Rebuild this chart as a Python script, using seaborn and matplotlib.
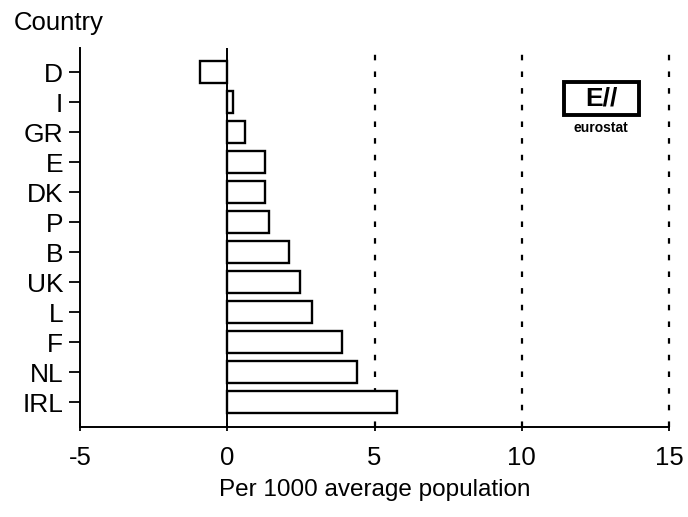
import matplotlib
matplotlib.use("Agg")
import matplotlib.pyplot as plt
import seaborn as sns
import pandas as pd
from matplotlib.patches import Rectangle

# landen en waarden (per 1000 gemiddelde bevolking)
countries = ["D", "I", "GR", "E", "DK", "P", "B", "UK", "L", "F", "NL", "IRL"]
values = [-0.92, 0.18, 0.61, 1.27, 1.27, 1.41, 2.09, 2.48, 2.89, 3.89, 4.40, 5.78]
x_ticks = [-5, 0, 5, 10, 15]
grid_lines = [5, 10, 15]

df = pd.DataFrame({"country": countries, "value": values})

sns.set_style("white")
plt.rcParams["font.family"] = ["Liberation Sans", "DejaVu Sans"]
plt.rcParams["text.color"] = "black"
plt.rcParams["xtick.color"] = "black"
plt.rcParams["ytick.color"] = "black"
plt.rcParams["axes.labelcolor"] = "black"

fig = plt.figure(figsize=(6.88, 5.17), dpi=100)
ax = fig.add_axes([0.1163, 0.174, 0.8561, 0.733])

sns.barplot(data=df, x="value", y="country", order=countries, orient="h",
            color="white", edgecolor="black", linewidth=1.7, width=0.74,
            saturation=1, ax=ax)

for g in grid_lines:
    ax.axvline(g, color="black", linestyle=(0, (2.5, 5)), linewidth=1.6, zorder=0,
               clip_on=False)
ax.axvline(0, color="black", linewidth=1.4, zorder=3)

ax.set_xlim(-5, 15)
ax.set_ylim(11.83, -0.8)
ax.set_xticks(x_ticks)
ax.set_xticklabels([str(t) for t in x_ticks], fontsize=18.5)
ax.tick_params(axis="y", labelsize=19, length=8, width=1.3, direction="out", pad=4, left=True)
ax.tick_params(axis="x", length=6, width=1.3, direction="inout", pad=11, bottom=True)

for s in ["top", "right"]:
    ax.spines[s].set_visible(False)
for s in ["left", "bottom"]:
    ax.spines[s].set_color("black")
    ax.spines[s].set_linewidth(1.4)

ax.set_xlabel("Per 1000 average population", fontsize=17.5, labelpad=6)
ax.set_ylabel("")
fig.text(0.02, 0.955, "Country", fontsize=18.5, ha="left", va="center")

# eurostat logo (benadering)
ax.add_patch(Rectangle((11.43, 1.43), 2.55, -1.1, fill=False, edgecolor="black",
                       linewidth=2.8, zorder=5))
ax.text(12.7, 0.88, "E//", fontsize=19, fontweight="bold", ha="center", va="center",
        zorder=6)
ax.text(12.7, 1.87, "eurostat", fontsize=10, fontweight="bold", ha="center", va="center",
        zorder=6)

fig.savefig("out.png", dpi=100)
